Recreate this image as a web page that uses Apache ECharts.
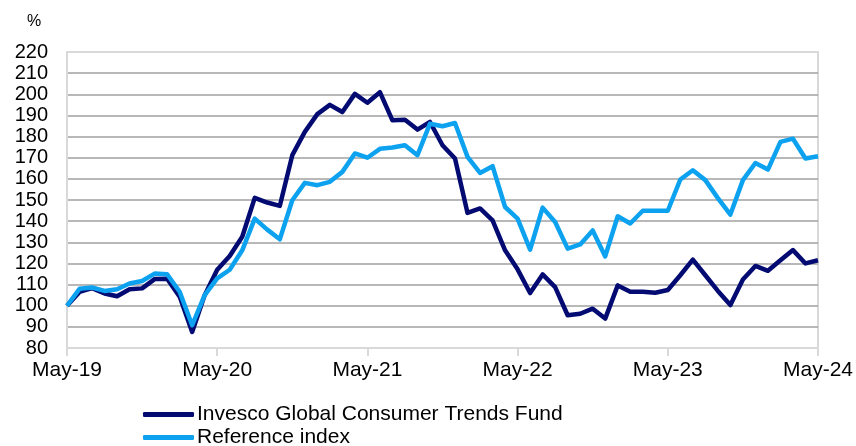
<!DOCTYPE html>
<html>
<head>
<meta charset="utf-8">
<script src="https://cdn.jsdelivr.net/npm/echarts@6/dist/echarts.min.js"></script>
<style>
  html, body { margin: 0; padding: 0; background: #fff; }
  #app { width: 856px; height: 446px; }
</style>
</head>
<body>
<div id="app"></div>
<script>
// monthly points, May-19 .. May-24
const monthNames = ['Jan', 'Feb', 'Mar', 'Apr', 'May', 'Jun', 'Jul', 'Aug', 'Sep', 'Oct', 'Nov', 'Dec']
const months = []
for (let i = 0; i < 61; i++) {
  const m = (4 + i) % 12
  const y = 19 + Math.floor((4 + i) / 12)
  months.push(monthNames[m] + '-' + y)
}

const fund = [
  100, 106.5, 108.3, 105.8, 104.5, 107.8, 108.2, 112.6, 112.8, 104.3, 87.6, 105,
  117, 123.5, 132.6, 151, 148.8, 147.2, 171.2, 182.2, 190.6, 195, 191.6, 200.2,
  196, 201, 187.7, 188, 183.3, 186.9, 175.9, 169.6, 143.9, 146, 140.4, 126.2,
  117.2, 106, 114.8, 108.8, 95.5, 96.2, 98.6, 93.9, 109.6, 106.6, 106.6, 106.1,
  107.4, 114.4, 121.8, 114.4, 107, 100.3, 112.4, 118.8, 116.5, 121.5, 126.3, 120,
  121.5
]

const reference = [
  100, 108, 108.6, 107, 107.8, 110.5, 111.7, 115.2, 114.9, 106.6, 90.8, 105,
  112.9, 117, 126.2, 141.2, 136, 131.4, 149.9, 158.1, 157, 158.6, 163.3, 172,
  170, 174.2, 174.8, 175.9, 171.2, 186.1, 184.9, 186.4, 170.4, 162.8, 166, 146.7,
  141.2, 126.5, 146.4, 139.6, 127, 129, 135.6, 123.3, 142.3, 138.9, 144.9, 144.9,
  144.9, 159.7, 164.1, 159.4, 150.9, 143.1, 159.4, 167.5, 164.4, 177.5, 179, 169.6,
  170.7
]

const seriesNames = ['Invesco Global Consumer Trends Fund', 'Reference index']
const colors = ['#030b73', '#0ca2f0']

const font = 'Liberation Sans, Arial, sans-serif'
const chart = echarts.init(document.getElementById('app'))

// one legend box per entry so the second row can sit partly below the canvas edge
function legendRow(name, top) {
  return {
    left: 143,
    top: top,
    padding: 0,
    itemWidth: 51,
    itemHeight: 5,
    itemGap: 0,
    icon: 'roundRect',
    textStyle: { fontFamily: font, fontSize: 21, color: '#000', padding: [0, 0, 0, -2] },
    data: [name]
  }
}

chart.setOption({
  animation: false,
  title: {
    text: '%',
    left: 22,
    top: 9,
    textStyle: { fontFamily: font, fontSize: 16, fontWeight: 'normal', color: '#000' }
  },
  grid: {
    left: 67,
    right: 36,
    top: 52,
    bottom: 98,
    show: true,
    borderColor: '#d9d9d9',
    borderWidth: 2
  },
  legend: [
    legendRow(seriesNames[0], 404),
    legendRow(seriesNames[1], 427)
  ],
  xAxis: {
    type: 'category',
    data: months,
    boundaryGap: false,
    axisLine: { lineStyle: { color: '#d9d9d9', width: 2 } },
    axisTick: { interval: 11, length: 8, lineStyle: { color: '#d9d9d9', width: 2 } },
    axisLabel: { interval: 11, margin: 12, fontFamily: font, fontSize: 21, color: '#000' },
    splitLine: { show: false }
  },
  yAxis: {
    type: 'value',
    min: 80,
    max: 220,
    interval: 10,
    axisLine: { show: true, lineStyle: { color: '#d9d9d9', width: 2 } },
    axisTick: { show: false },
    axisLabel: { margin: 19, fontFamily: font, fontSize: 20, color: '#000' },
    splitLine: {
      show: true,
      showMinLine: false,
      showMaxLine: false,
      lineStyle: { color: '#a0a0a0', width: 1.5 }
    }
  },
  series: [
    {
      name: seriesNames[0],
      type: 'line',
      data: fund,
      symbol: 'none',
      color: colors[0],
      lineStyle: { width: 4.5, color: colors[0], join: 'round' }
    },
    {
      name: seriesNames[1],
      type: 'line',
      data: reference,
      symbol: 'none',
      color: colors[1],
      lineStyle: { width: 4.5, color: colors[1], join: 'round' }
    }
  ]
})
</script>
</body>
</html>
